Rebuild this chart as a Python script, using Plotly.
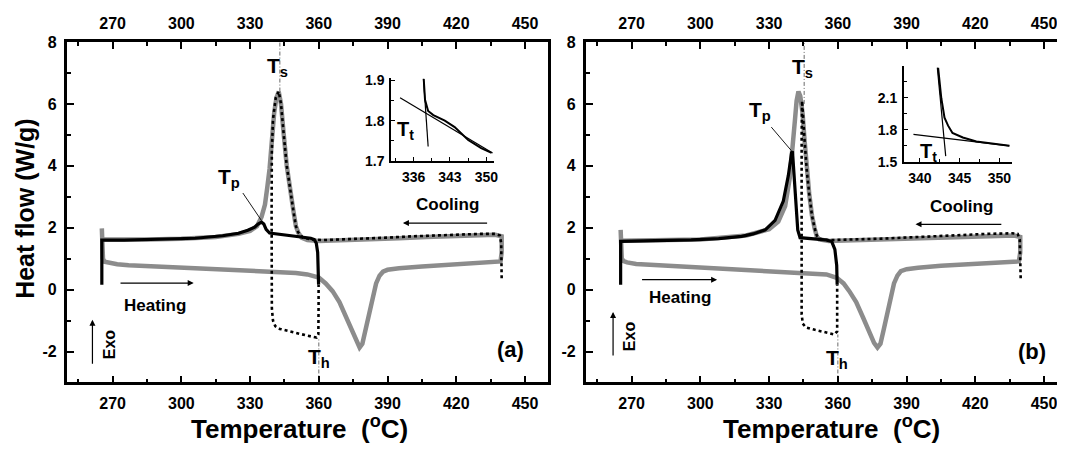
import plotly.graph_objects as go

# ---------------- data ----------------
main_ticks = [270, 300, 330, 360, 390, 420, 450]
y_ticks = [-2, 0, 2, 4, 6, 8]

# Panel (a)
a_gray_T = [265.3, 265.5, 265.8, 266.5, 268.5, 272, 277, 290, 300, 315, 328, 340, 350, 355, 360, 363, 366, 369,
            372, 374.5, 376.5, 377.8, 379, 380.5, 382, 383.5, 385, 386.5, 388, 390, 395, 405, 420, 435, 439.3,
            439.8, 440, 439.8,
            437, 430, 420, 407, 395, 380, 370, 360, 355, 352.5, 351, 350, 349, 347.5, 346, 344.7, 343.5, 342.5,
            341.5, 340.5, 339.5, 338.5, 337.5, 336.5, 335, 333, 330, 325, 315, 300, 285, 270, 266, 265.4]
a_gray_v = [1.98, 1.5, 1.0, 0.9, 0.86, 0.82, 0.79, 0.75, 0.71, 0.67, 0.63, 0.59, 0.54, 0.49, 0.39, 0.2, -0.05, -0.4,
            -0.9, -1.35, -1.72, -1.87, -1.75, -1.3, -0.75, -0.25, 0.2, 0.45, 0.58, 0.64, 0.69, 0.75, 0.82, 0.9, 0.91,
            1.2, 1.5, 1.72,
            1.77, 1.76, 1.74, 1.7, 1.66, 1.62, 1.59, 1.57, 1.6, 1.68, 1.85, 2.05, 2.5, 3.2, 4.0, 5.0, 6.0, 6.4,
            6.2, 5.7, 4.7, 3.9, 3.3, 2.75, 2.35, 2.05, 1.9, 1.8, 1.7, 1.64, 1.62, 1.6, 1.6, 1.62]

a_black_T = [359.9, 359.8, 359.5, 358.9, 358, 356.5, 350, 345, 340, 338.5, 337, 336, 335, 333.5, 332, 329, 325,
             318, 306, 290, 275, 266, 265.3, 265.3]
a_black_v = [0.16, 0.5, 1.2, 1.5, 1.62, 1.66, 1.72, 1.75, 1.79, 1.83, 1.95, 2.12, 2.18, 2.12, 2.02, 1.92, 1.82,
             1.74, 1.66, 1.62, 1.6, 1.6, 1.6, 0.16]

a_dot_T = [439.8, 439.8, 439.6, 439, 437, 430, 420, 410, 400, 390, 380, 370, 362, 357, 353, 351, 350, 349, 347.5,
           346, 344.7, 343.5, 342.5, 341.2, 340, 339.5, 339.4, 339.4, 339.5, 340, 341, 343, 348, 354, 359, 359.8,
           359.9, 359.9]
a_dot_v = [0.37, 0.9, 1.5, 1.75, 1.8, 1.8, 1.78, 1.75, 1.72, 1.68, 1.65, 1.62, 1.6, 1.62, 1.68, 1.85, 2.05, 2.5,
           3.2, 4.0, 5.0, 6.0, 6.4, 6.2, 5.5, 4.5, 2.5, 0.5, -0.6, -1.0, -1.18, -1.27, -1.37, -1.47, -1.55, -1.45,
           -0.5, 0.16]

a_ts_T = [343, 343]
a_ts_v = [6.4, 8]
a_th_T = [360, 360]
a_th_v = [-3, -1.55]

# Panel (b)
b_gray_T = [265.2, 265.4, 265.7, 266.5, 268, 272, 282, 295, 311, 325, 340, 350, 355, 359.5, 362.5, 365, 368, 371,
            373.5, 375.8, 377.3, 378.6, 380, 381.5, 383, 384.5, 386, 387.5, 390, 395, 405, 420, 435, 439, 439.6,
            439.8, 439.6,
            437, 425, 410, 395, 380, 365, 356, 352, 350.8, 349.8, 348.7, 347.5, 346.5, 345.5, 344.6, 343.6, 342.8,
            342, 341.3, 340.6, 340, 339, 337, 334, 330, 320, 300, 280, 266, 265.3]
b_gray_v = [1.93, 1.5, 1.0, 0.92, 0.88, 0.83, 0.79, 0.74, 0.68, 0.63, 0.58, 0.53, 0.49, 0.38, 0.2, -0.05, -0.4,
            -0.9, -1.35, -1.72, -1.87, -1.75, -1.3, -0.75, -0.25, 0.2, 0.45, 0.6, 0.66, 0.71, 0.77, 0.84, 0.9, 0.91,
            1.2, 1.5, 1.7,
            1.75, 1.72, 1.68, 1.64, 1.6, 1.57, 1.57, 1.62, 1.72, 2.0, 2.4, 3.1, 3.8, 4.8, 5.7, 6.25, 6.4,
            6.1, 5.5, 5.0, 4.4, 3.6, 2.7, 2.2, 1.95, 1.75, 1.62, 1.58, 1.56, 1.58]

b_black_T = [359.7, 359.5, 358.7, 357.3, 354.4, 348, 344.5, 343.5, 342.5, 341.3, 340.2, 339.8, 338.4, 336.2, 332.6,
             328.3, 323, 318, 308, 296, 280, 266, 265.2, 265.2]
b_black_v = [0.16, 0.78, 1.3, 1.56, 1.61, 1.64, 1.66, 1.68, 1.93, 3.28, 4.47, 4.42, 3.69, 2.86, 2.24,
             1.93, 1.8, 1.72, 1.65, 1.61, 1.58, 1.56, 1.56, 0.16]

b_dot_T = [439.8, 439.7, 439.4, 438.5, 436, 425, 410, 395, 380, 365, 356, 352, 350.8, 349.8, 348.7, 347.5, 346.5,
           345.5, 344.8, 344.4, 344.2, 344.1, 344.1, 344.2, 344.7, 346, 350, 355, 358.5, 359.7, 359.7]
b_dot_v = [0.37, 1.0, 1.6, 1.8, 1.82, 1.8, 1.76, 1.7, 1.65, 1.61, 1.6, 1.64, 1.75, 2.0, 2.4, 3.1, 3.8,
           4.8, 5.6, 6.1, 5.0, 2.5, 0.0, -0.8, -1.1, -1.22, -1.3, -1.38, -1.45, -1.35, 0.16]

b_ts_T = [345.3, 345.3]
b_ts_v = [6.0, 8]
b_th_T = [360, 360]
b_th_v = [-3, -1.45]

# Inset (a)
ia_xticks = [336, 343, 350]
ia_yticks = [1.7, 1.8, 1.9]
ia_curve_T = [337.95, 338.2, 338.8, 339.8, 342.0, 343.9, 346.5, 349.0, 351.0]
ia_curve_v = [1.904, 1.852, 1.824, 1.814, 1.80, 1.784, 1.752, 1.732, 1.72]
ia_tan1_T = [333.4, 351.2]
ia_tan1_v = [1.857, 1.72]
ia_tan2_T = [337.9, 338.8]
ia_tan2_v = [1.904, 1.736]

# Inset (b)
ib_xticks = [340, 345, 350]
ib_yticks = [1.5, 1.8, 2.1]
ib_curve_T = [342.3, 342.7, 343.1, 343.55, 344.1, 345.4, 347.1, 349.2, 351.25]
ib_curve_v = [2.38, 2.095, 1.914, 1.839, 1.77, 1.728, 1.69, 1.668, 1.65]
ib_tan1_T = [339.2, 351.25]
ib_tan1_v = [1.758, 1.65]
ib_tan2_T = [342.2, 343.25]
ib_tan2_v = [2.38, 1.554]

# ---------------- styles ----------------
FONT = "Liberation Sans, Arial, sans-serif"
GRAY = "#8c8c8c"
SCREEN_W, SCREEN_H = 1065, 457
OFF = 8  # default page margin of the html body
W, H = SCREEN_W - OFF, SCREEN_H - OFF


def px_x(p):
    return (p - OFF) / W


def px_y(p):
    return 1 - (p - OFF) / H


fig = go.Figure()


def add_panel(xa, ya, gT, gv, bT, bv, dT, dv, tsT, tsv, thT, thv):
    fig.add_trace(go.Scatter(x=gT, y=gv, mode="lines", line=dict(color=GRAY, width=4.5),
                             xaxis=xa, yaxis=ya, hoverinfo="skip"))
    fig.add_trace(go.Scatter(x=dT, y=dv, mode="lines", line=dict(color="black", width=2.6, dash="3px,3px"),
                             xaxis=xa, yaxis=ya, hoverinfo="skip"))
    fig.add_trace(go.Scatter(x=bT, y=bv, mode="lines", line=dict(color="black", width=3.2),
                             xaxis=xa, yaxis=ya, hoverinfo="skip"))
    for T, v in ((tsT, tsv), (thT, thv)):
        fig.add_trace(go.Scatter(x=T, y=v, mode="lines",
                                 line=dict(color="#444", width=0.8, dash="4px,2px,1px,2px"),
                                 xaxis=xa, yaxis=ya, hoverinfo="skip"))


add_panel("x", "y", a_gray_T, a_gray_v, a_black_T, a_black_v, a_dot_T, a_dot_v, a_ts_T, a_ts_v, a_th_T, a_th_v)
add_panel("x2", "y2", b_gray_T, b_gray_v, b_black_T, b_black_v, b_dot_T, b_dot_v, b_ts_T, b_ts_v, b_th_T, b_th_v)

# invisible traces for top axes
fig.add_trace(go.Scatter(x=[main_ticks[0]], y=[0], mode="markers", marker=dict(opacity=0),
                         xaxis="x3", yaxis="y", hoverinfo="skip"))
fig.add_trace(go.Scatter(x=[main_ticks[0]], y=[0], mode="markers", marker=dict(opacity=0),
                         xaxis="x4", yaxis="y2", hoverinfo="skip"))

# insets
for xa, ya, cT, cv, t1T, t1v, t2T, t2v in (
        ("x5", "y5", ia_curve_T, ia_curve_v, ia_tan1_T, ia_tan1_v, ia_tan2_T, ia_tan2_v),
        ("x6", "y6", ib_curve_T, ib_curve_v, ib_tan1_T, ib_tan1_v, ib_tan2_T, ib_tan2_v)):
    fig.add_trace(go.Scatter(x=t1T, y=t1v, mode="lines", line=dict(color="black", width=1.2),
                             xaxis=xa, yaxis=ya, hoverinfo="skip"))
    fig.add_trace(go.Scatter(x=t2T, y=t2v, mode="lines", line=dict(color="black", width=1.2),
                             xaxis=xa, yaxis=ya, hoverinfo="skip"))
    fig.add_trace(go.Scatter(x=cT, y=cv, mode="lines", line=dict(color="black", width=2),
                             xaxis=xa, yaxis=ya, hoverinfo="skip"))

tickfont = dict(family=FONT, size=16, color="black", weight="bold")
insetfont = dict(family=FONT, size=14, color="black", weight="bold")

y_dom = [px_y(388), px_y(35)]
a_dom = [px_x(67), px_x(550)]
b_dom = [px_x(588), 1.0]
a_range = [250, 460]
b_range = [250, 250 + (SCREEN_W - 588) / 2.3]


def main_x(dom, rng, anchor, side="bottom", overlaying=None):
    d = dict(domain=dom, range=rng, anchor=anchor, side=side, tickmode="array", tickvals=main_ticks,
             ticktext=[str(t) for t in main_ticks], ticks="inside", ticklen=7, tickwidth=2, tickcolor="black",
             showline=True, linewidth=2.8, linecolor="black", mirror=False, showgrid=False, zeroline=False,
             tickfont=tickfont, ticklabelstandoff=4,
             minor=dict(ticks="inside", ticklen=4, tickwidth=2, tickcolor="black", tick0=255, dtick=30,
                        showgrid=False))
    if overlaying:
        d["overlaying"] = overlaying
    return d


def main_y(dom, anchor, mirror):
    return dict(domain=dom, range=[-3, 8], anchor=anchor, tickmode="array", tickvals=y_ticks,
                ticktext=[str(t) for t in y_ticks], ticks="inside", ticklen=7, tickwidth=2, tickcolor="black",
                showline=True, linewidth=2.8, linecolor="black", mirror=mirror, showgrid=False, zeroline=False,
                tickfont=tickfont, ticklabelstandoff=4,
                minor=dict(ticks="inside", ticklen=4, tickwidth=2, tickcolor="black", tick0=-3, dtick=2,
                           showgrid=False))


def inset_axes(xdom, ydom, xr, yr, xt, yt, xminor, yminor, xa_id, ya_id):
    xa = dict(domain=xdom, range=xr, anchor=ya_id, tickmode="array", tickvals=xt,
              ticktext=[str(t) for t in xt], ticks="inside", ticklen=4, tickwidth=1.2, tickcolor="black",
              showline=True, linewidth=1.8, linecolor="black", mirror=False, showgrid=False, zeroline=False,
              tickfont=insetfont, ticklabelstandoff=2,
              minor=dict(ticks="inside", ticklen=3, tickwidth=1, tickcolor="black", tick0=xt[0], dtick=xminor,
                         showgrid=False))
    ya = dict(domain=ydom, range=yr, anchor=xa_id, tickmode="array", tickvals=yt,
              ticktext=[f"{t:.1f}" for t in yt], ticks="inside", ticklen=4, tickwidth=1.2, tickcolor="black",
              showline=True, linewidth=1.8, linecolor="black", mirror=False, showgrid=False, zeroline=False,
              tickfont=insetfont, ticklabelstandoff=2,
              minor=dict(ticks="inside", ticklen=3, tickwidth=1, tickcolor="black", tick0=yt[0], dtick=yminor,
                         showgrid=False))
    return xa, ya


x5, y5 = inset_axes([px_x(392.7), px_x(496)], [px_y(158.3), px_y(72.7)], [331.7, 351.5], [1.7, 1.905],
                    ia_xticks, ia_yticks, 3.5, 0.05, "x5", "y5")
x6, y6 = inset_axes([px_x(907.3), px_x(1016)], [px_y(159.3), px_y(60)], [338.0, 351.6], [1.5, 2.395],
                    ib_xticks, ib_yticks, 2.5, 0.15, "x6", "y6")

fig.update_layout(
    width=W, height=H, autosize=False, margin=dict(l=0, r=0, t=0, b=0),
    paper_bgcolor="white", plot_bgcolor="rgba(0,0,0,0)", showlegend=False,
    xaxis=main_x(a_dom, a_range, "y"),
    yaxis=main_y(y_dom, "x", True),
    xaxis2=main_x(b_dom, b_range, "y2"),
    yaxis2=main_y(y_dom, "x2", False),
    xaxis3=main_x(a_dom, a_range, "y", side="top", overlaying="x"),
    xaxis4=main_x(b_dom, b_range, "y2", side="top", overlaying="x2"),
    xaxis5=x5, yaxis5=y5, xaxis6=x6, yaxis6=y6,
)

ann = []


def txt(xr, yr, x, y, text, size, angle=0):
    ann.append(dict(xref=xr, yref=yr, x=x, y=y, text=text, showarrow=False, textangle=angle,
                    font=dict(family=FONT, size=size, color="black", weight="bold"),
                    xanchor="center", yanchor="middle"))


def arrow(xr, yr, x, y, ax, ay, head=2, width=1.2):
    ann.append(dict(xref=xr, yref=yr, axref=xr, ayref=yr, x=x, y=y, ax=ax, ay=ay, text="",
                    showarrow=True, arrowhead=head, arrowsize=1, arrowwidth=width, arrowcolor="black"))


# panel (a)
txt("x", "y", 342.0, 7.2, "T<sub>s</sub>", 21)
txt("x", "y", 320.9, 3.6, "T<sub>p</sub>", 21)
arrow("x", "y", 334.9, 2.24, 326.4, 3.17, head=0, width=0.9)
txt("x", "y", 360.2, -2.22, "T<sub>h</sub>", 21)
txt("x", "y", 288.4, -0.51, "Heating", 17)
arrow("x", "y", 305.4, 0.21, 272.8, 0.21)
txt("x", "y", 416.3, 2.74, "Cooling", 17)
arrow("x", "y", 396.7, 2.15, 434.1, 2.15)
txt("x", "y", 268.5, -1.76, "Exo", 16, angle=-90)
arrow("x", "y", 261.2, -0.97, 261.2, -2.44)
txt("x", "y", 443.7, -1.95, "(a)", 22)
txt("x5", "y5", 334.5, 1.775, "T<sub>t</sub>", 20)

# panel (b)
txt("x2", "y2", 344.5, 7.15, "T<sub>s</sub>", 21)
txt("x2", "y2", 326.1, 5.77, "T<sub>p</sub>", 21)
arrow("x2", "y2", 339.6, 4.50, 330.4, 5.30, head=0, width=0.9)
txt("x2", "y2", 359.8, -2.25, "T<sub>h</sub>", 21)
txt("x2", "y2", 291.3, -0.26, "Heating", 17)
arrow("x2", "y2", 307.3, 0.32, 273.9, 0.32)
txt("x2", "y2", 414.1, 2.68, "Cooling", 17)
arrow("x2", "y2", 393.9, 2.11, 432.0, 2.11)
txt("x2", "y2", 268.9, -1.5, "Exo", 16, angle=-90)
arrow("x2", "y2", 261.9, -0.72, 261.9, -2.18)
txt("x2", "y2", 444.7, -2.0, "(b)", 22)
txt("x6", "y6", 341.1, 1.584, "T<sub>t</sub>", 20)

# axis titles
txt("paper", "paper", px_x(301), px_y(435), "Temperature&nbsp; (<sup>o</sup>C)", 26)
txt("paper", "paper", px_x(835), px_y(435), "Temperature&nbsp; (<sup>o</sup>C)", 26)
txt("paper", "paper", px_x(25), px_y(207), "Heat flow (W/g)", 25, angle=-90)

fig.update_layout(annotations=ann)
fig.write_html("out.html")
